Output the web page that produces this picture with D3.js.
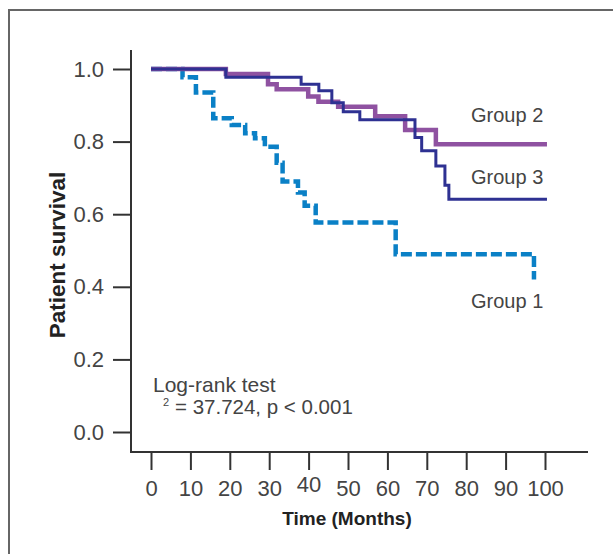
<!DOCTYPE html>
<html>
<head>
<meta charset="utf-8">
<script src="https://cdn.jsdelivr.net/npm/d3@7"></script>
<style>
  body { margin: 0; background: #fff; }
  svg { display: block; }
</style>
</head>
<body>
<div class="canvas"></div>
<script>
// Kaplan-Meier step data (months, survival)
const group1Time = [0, 8, 11.4, 15.8, 20.5, 23.9, 26.4, 28.9, 31.9, 33.4, 37.3, 39.0, 41.8, 62.1, 97.2];
const group1Surv = [1.0, 0.977, 0.935, 0.864, 0.846, 0.823, 0.809, 0.786, 0.742, 0.69, 0.66, 0.623, 0.577, 0.49, 0.42];

const group2Time = [0, 19, 29.7, 31.9, 39.9, 42.5, 47.5, 56.9, 64.5, 72.3, 100.5];
const group2Surv = [1.0, 0.986, 0.958, 0.944, 0.924, 0.91, 0.896, 0.87, 0.832, 0.793, 0.793];

const group3Time = [0, 19, 38.1, 42.6, 45.9, 48.8, 53, 67, 68.7, 72.3, 74.6, 75.6, 100.5];
const group3Surv = [1.0, 0.977, 0.958, 0.94, 0.907, 0.882, 0.86, 0.811, 0.775, 0.733, 0.68, 0.641, 0.641];

const xTicks = [0, 10, 20, 30, 40, 50, 60, 70, 80, 90, 100];
const yTicks = [0, 0.2, 0.4, 0.6, 0.8, 1.0];

const font = "'Liberation Sans', Arial, sans-serif";
const textColor = "#444";

const svg = d3.select('.canvas')
  .append('svg')
  .attr('width', 613)
  .attr('height', 554);

// outer frame
svg.append("rect")
    .attr("x", 9).attr("y", 10)
    .attr("width", 620).attr("height", 560)
    .style("fill", "none")
    .style("stroke", "#666")
    .style("stroke-width", 2);

const x = d3.scaleLinear().domain([0, 100]).range([151, 545]);
const y = d3.scaleLinear().domain([0, 1]).range([432, 69]);

// axis lines
svg.append("line")
    .attr("x1", 131).attr("x2", 131).attr("y1", 50).attr("y2", 453)
    .style("stroke", "#333").style("stroke-width", 2);
svg.append("line")
    .attr("x1", 130).attr("x2", 588).attr("y1", 452).attr("y2", 452)
    .style("stroke", "#333").style("stroke-width", 2);

const yAxis = svg.append("g")
    .attr("transform", "translate(131,0)")
    .call(d3.axisLeft(y).tickValues(yTicks).tickFormat(d3.format(".1f")).tickSize(18).tickPadding(9));

const xAxis = svg.append("g")
    .attr("transform", "translate(0,452)")
    .call(d3.axisBottom(x).tickValues(xTicks).tickSize(18).tickPadding(10));

[yAxis, xAxis].forEach(g => {
  g.select(".domain").remove();
  g.selectAll(".tick line").style("stroke", "#333").style("stroke-width", 2);
  g.selectAll(".tick text")
    .style("font-family", font)
    .style("font-size", "22px")
    .style("fill", textColor);
});
// the "40" label sits a little higher in the original
xAxis.selectAll(".tick text").filter(d => d === 40).attr("dy", "0.56em");

// survival curves
const step = d3.line()
    .x(d => x(d[0]))
    .y(d => y(d[1]))
    .curve(d3.curveStepAfter);

svg.append("path")
    .datum(d3.zip(group1Time, group1Surv))
    .attr("d", step)
    .style("fill", "none")
    .style("stroke", "#0a80c6")
    .style("stroke-width", 4.5)
    .style("stroke-dasharray", "11,4");

svg.append("path")
    .datum(d3.zip(group2Time, group2Surv))
    .attr("d", step)
    .style("fill", "none")
    .style("stroke", "#8f52a1")
    .style("stroke-width", 4.5);

svg.append("path")
    .datum(d3.zip(group3Time, group3Surv))
    .attr("d", step)
    .style("fill", "none")
    .style("stroke", "#2e3192")
    .style("stroke-width", 3);

// group labels
const labels = [["Group 2", 122], ["Group 3", 184], ["Group 1", 308]];
labels.forEach(l => {
  svg.append("text")
      .attr("x", 471).attr("y", l[1])
      .style("font-family", font)
      .style("font-size", "20px")
      .style("fill", textColor)
      .text(l[0]);
});

// log-rank annotation
svg.append("text")
    .attr("x", 153).attr("y", 392)
    .style("font-family", font).style("font-size", "21px").style("fill", textColor)
    .text("Log-rank test");
svg.append("text")
    .attr("x", 163).attr("y", 406)
    .style("font-family", font).style("font-size", "11px").style("fill", textColor)
    .text("2");
svg.append("text")
    .attr("x", 175).attr("y", 414)
    .style("font-family", font).style("font-size", "20.5px").style("fill", textColor)
    .text("= 37.724, p < 0.001");

// axis titles
svg.append("text")
    .attr("x", 347).attr("y", 525)
    .attr("text-anchor", "middle")
    .style("font-family", font).style("font-size", "19px").style("font-weight", "bold")
    .style("fill", "#222")
    .text("Time (Months)");

svg.append("text")
    .attr("transform", "translate(65,255) rotate(-90)")
    .attr("text-anchor", "middle")
    .style("font-family", font).style("font-size", "22.5px").style("font-weight", "bold")
    .style("fill", "#222")
    .text("Patient survival");
</script>
</body>
</html>
